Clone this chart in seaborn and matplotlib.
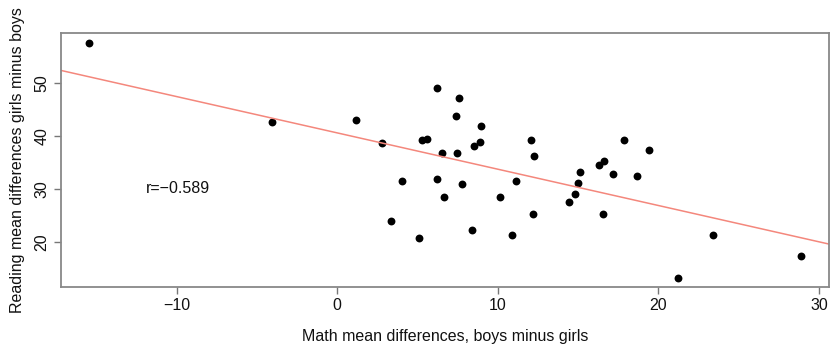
import numpy as np
import pandas as pd
import matplotlib
matplotlib.use("Agg")
import matplotlib.pyplot as plt
import seaborn as sns

# values
math_diff = [-15.45, -4.03, 1.18, 2.81, 4.05, 3.35, 5.07, 6.20, 7.59, 7.38,
             8.97, 5.31, 5.58, 8.54, 8.87, 6.51, 7.48, 6.24, 7.75, 6.66,
             8.41, 10.11, 11.14, 10.87, 12.07, 12.26, 12.18, 14.45, 14.83, 14.99,
             15.14, 16.27, 16.62, 16.56, 17.20, 17.87, 18.67, 19.39, 23.39, 21.25,
             28.86]
reading_diff = [57.6, 42.6, 43.0, 38.6, 31.4, 23.9, 20.8, 49.0, 47.1, 43.8,
                41.9, 39.2, 39.4, 38.1, 38.9, 36.7, 36.8, 31.8, 30.9, 28.5,
                22.3, 28.5, 31.5, 21.3, 39.2, 36.2, 25.3, 27.5, 29.0, 31.1,
                33.2, 34.5, 35.3, 25.3, 32.9, 39.2, 32.4, 37.4, 21.2, 13.2,
                17.4]
x_ticks = [-10, 0, 10, 20, 30]
y_ticks = [20, 30, 40, 50]
r_label = "r=\u22120.589"

df = pd.DataFrame({"math": math_diff, "reading": reading_diff})

sns.set_style("white")
plt.rcParams["font.family"] = ["Liberation Sans", "DejaVu Sans"]

fig = plt.figure(figsize=(8.3, 3.44), dpi=100)
ax = fig.add_axes([0.073, 0.165, 0.926, 0.738])

# R-like 4% padding around data
xr = max(math_diff) - min(math_diff)
yr = max(reading_diff) - min(reading_diff)
ax.set_xlim(min(math_diff) - 0.04 * xr, max(math_diff) + 0.04 * xr)
ax.set_ylim(min(reading_diff) - 0.04 * yr, max(reading_diff) + 0.04 * yr)

sns.regplot(data=df, x="math", y="reading", ax=ax, ci=None, truncate=False,
            scatter_kws={"s": 32, "color": "black", "linewidths": 0, "alpha": 1},
            line_kws={"color": "#f4877c", "lw": 1.1})

ax.text(-11.9, 30, r_label, fontsize=11.5, va="center", ha="left", color="#111111")

ax.set_xticks(x_ticks)
ax.set_xticklabels(["\u221210", "0", "10", "20", "30"])
ax.set_yticks(y_ticks)
ax.set_yticklabels([str(v) for v in y_ticks], rotation=90, va="center")
ax.tick_params(axis="both", direction="out", length=5, width=1, color="#777777",
               labelsize=11.5, labelcolor="#111111", pad=3)
ax.tick_params(bottom=True, left=True)

for s in ax.spines.values():
    s.set_color("#888888")
    s.set_linewidth(1.3)

ax.set_xlabel("Math mean differences, boys minus girls", fontsize=11.5, color="#111111", labelpad=11)
ax.set_ylabel("Reading mean differences girls minus boys", fontsize=11.5, color="#111111", labelpad=7)

fig.savefig("out.png", dpi=100)
